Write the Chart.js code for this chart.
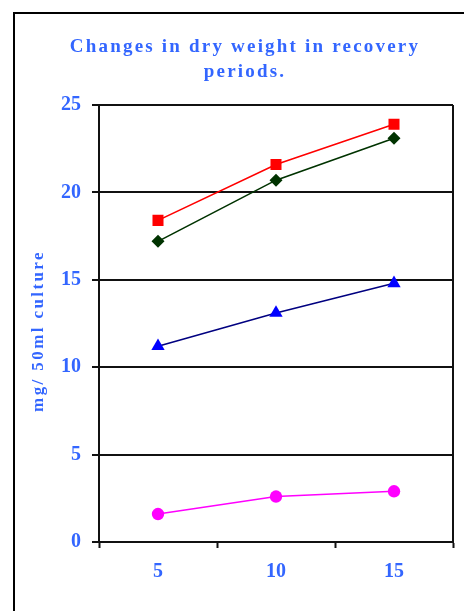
<!DOCTYPE html>
<html>
<head>
<meta charset="utf-8">
<script src="https://cdn.jsdelivr.net/npm/chart.js@4/dist/chart.umd.min.js"></script>
<style>
  body { margin: 0; background: #fff; }
  #myChart { display: block; }
</style>
</head>
<body>
<canvas id="myChart" width="464" height="611"></canvas>
<script>
style = {
  textBlue: '#3366FF',
  red: '#FF0000',
  darkGreen: '#003300',
  navy: '#000080',
  blue: '#0000FF',
  magenta: '#FF00FF',
  font: "'Liberation Serif', 'Times New Roman', serif"
}

// recovery period (x categories)
const periods = ['5', '10', '15'];

// dry weight, mg / 50ml culture
const seriesA = [18.4, 21.6, 23.9];   // red squares
const seriesB = [17.2, 20.7, 23.1];   // green diamonds
const seriesC = [11.2, 13.1, 14.8];   // blue triangles
const seriesD = [1.6, 2.6, 2.9];      // magenta circles

const titleLines = ['Changes in dry weight in recovery', 'periods.'];
const yTitle = 'mg/ 50ml culture';

// frame, title and y title drawn with letter spacing
const textPlugin = {
  id: 'textPlugin',
  beforeDraw(chart) {
    const ctx = chart.ctx;
    ctx.save();
    ctx.strokeStyle = '#000';
    ctx.lineWidth = 2;
    ctx.strokeRect(14, 13, 480, 640);
    ctx.restore();
  },
  afterDraw(chart) {
    const ctx = chart.ctx;
    ctx.save();
    ctx.fillStyle = style.textBlue;
    ctx.textAlign = 'center';
    ctx.textBaseline = 'alphabetic';
    ctx.font = 'bold 19px ' + style.font;
    ctx.letterSpacing = '2.2px';
    ctx.fillText(titleLines[0], 245, 52);
    ctx.fillText(titleLines[1], 245, 77);

    ctx.font = 'bold 17px ' + style.font;
    ctx.letterSpacing = '2.4px';
    ctx.translate(43, 331);
    ctx.rotate(-Math.PI / 2);
    ctx.fillText(yTitle, 0, 0);
    ctx.restore();

    // right edge of the plot area
    const a = chart.chartArea;
    ctx.save();
    ctx.strokeStyle = '#111';
    ctx.lineWidth = 2;
    ctx.beginPath();
    ctx.moveTo(a.right, a.top);
    ctx.lineTo(a.right, a.bottom);
    ctx.stroke();
    ctx.restore();
  }
};

const mk = (label, data, line, fill, shape, r) => ({
  label: label,
  data: data,
  borderColor: line,
  backgroundColor: fill,
  pointBackgroundColor: fill,
  pointBorderColor: fill,
  pointStyle: shape,
  pointRadius: r,
  pointBorderWidth: 0,
  borderWidth: 1.6,
  tension: 0
});

const data = {
  labels: periods,
  datasets: [
    mk('A', seriesA, style.red, style.red, 'rect', 7.8),
    mk('B', seriesB, style.darkGreen, style.darkGreen, 'rectRot', 6.5),
    mk('C', seriesC, style.navy, style.blue, 'triangle', 7.7),
    mk('D', seriesD, style.magenta, style.magenta, 'circle', 6.2)
  ]
};

const config = {
  type: 'line',
  data,
  options: {
    responsive: false,
    animation: false,
    layout: { padding: { top: 105, right: 11, left: 0, bottom: 0 } },
    plugins: {
      legend: { display: false },
      title: { display: false },
      tooltip: { enabled: false }
    },
    scales: {
      x: {
        offset: true,
        grid: {
          offset: true,
          drawOnChartArea: false,
          drawTicks: true,
          tickLength: 6,
          tickWidth: 2,
          tickColor: '#111'
        },
        border: { display: true, color: '#111', width: 2 },
        ticks: {
          color: style.textBlue,
          font: { family: style.font, size: 20, weight: 'bold' },
          padding: 12,
          maxRotation: 0
        },
        afterFit: (s) => { s.height = 69; }
      },
      y: {
        min: 0,
        max: 25,
        ticks: {
          stepSize: 5,
          color: style.textBlue,
          font: { family: style.font, size: 20, weight: 'bold' },
          padding: 11
        },
        grid: {
          color: '#111',
          lineWidth: 2,
          tickLength: 7
        },
        border: { display: true, color: '#111', width: 2 },
        afterFit: (s) => { s.width = 99; }
      }
    }
  },
  plugins: [textPlugin]
};

var myChart = new Chart(document.getElementById('myChart'), config);
</script>
</body>
</html>
